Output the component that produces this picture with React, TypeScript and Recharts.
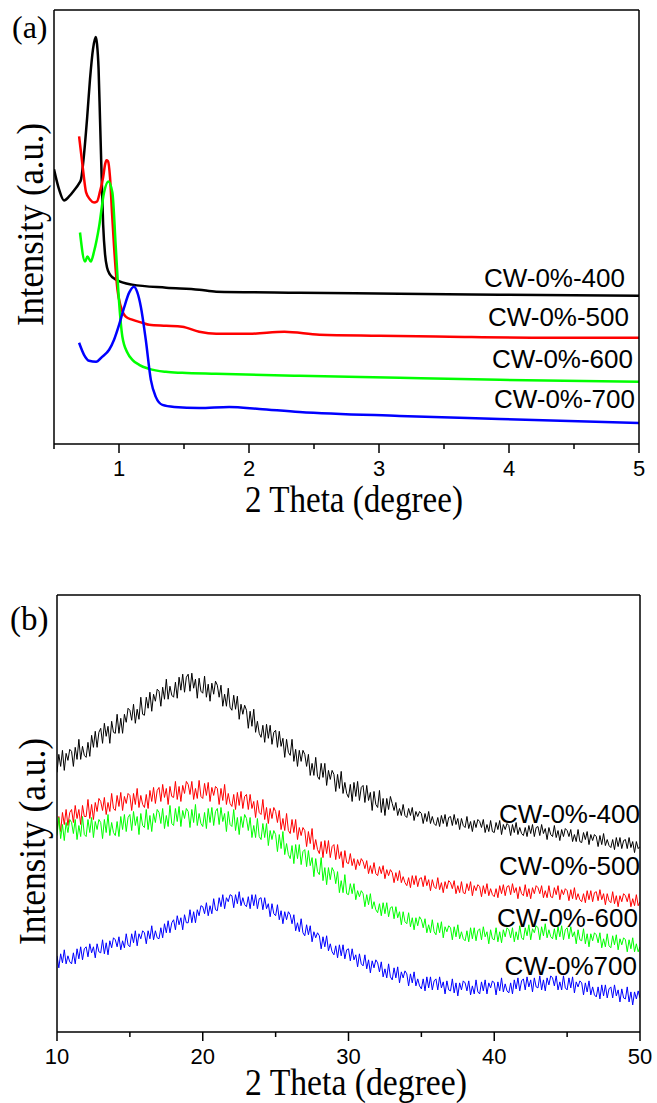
import { LineChart, Line, XAxis, YAxis } from 'recharts'

// ---- panel (a): small-angle XRD, intensity in arbitrary units ----
const thetaA400 = [0.5, 0.539, 0.577, 0.616, 0.654, 0.693, 0.708, 0.731, 0.754, 0.777, 0.8, 0.821, 0.831, 0.843, 0.854, 0.866, 0.878, 0.893, 0.908, 0.931, 0.978, 1.101, 1.363, 1.617, 1.748, 2.388, 3.158, 3.928, 5.0]
const intensityA400 = [274, 254, 243, 247, 253, 260, 264, 289, 324, 364, 394, 406, 399, 374, 324, 269, 219, 189, 176, 169, 164, 159, 156, 154, 152, 151, 150, 149, 148]

const thetaA500 = [0.693, 0.723, 0.747, 0.777, 0.808, 0.831, 0.854, 0.878, 0.893, 0.903, 0.916, 0.931, 0.947, 0.962, 0.988, 1.014, 1.052, 1.101, 1.178, 1.232, 1.363, 1.486, 1.617, 1.748, 2.002, 2.272, 2.542, 3.004, 3.543, 4.314, 5.0]
const intensityA500 = [307, 274, 251, 244, 241, 242, 252, 266, 279, 283, 282, 266, 229, 197, 154, 137, 127, 124, 121, 119, 118, 117, 112, 110, 110, 112, 109, 108, 107, 106, 106]

const thetaA600 = [0.7, 0.739, 0.757, 0.783, 0.808, 0.847, 0.885, 0.918, 0.949, 0.975, 1.001, 1.026, 1.065, 1.103, 1.155, 1.232, 1.361, 1.486, 1.746, 2.388, 3.158, 3.928, 5.0]
const intensityA600 = [211, 182, 187, 182, 192, 217, 251, 262, 251, 197, 141, 107, 91, 84, 79, 75, 72, 71, 70, 68, 66, 64, 62]

const thetaA700 = [0.693, 0.731, 0.77, 0.824, 0.87, 0.924, 0.962, 1.001, 1.039, 1.078, 1.116, 1.139, 1.168, 1.206, 1.245, 1.283, 1.334, 1.425, 1.617, 1.848, 2.079, 2.388, 3.158, 3.928, 5.0]
const intensityA700 = [101, 89, 83, 82, 87, 94, 104, 119, 136, 151, 157, 152, 137, 104, 64, 47, 39, 37, 36, 37, 35, 32, 28, 25, 21]

const ticksA = [0.5, 1, 1.5, 2, 2.5, 3, 3.5, 4, 4.5, 5]
const majorTicksA = [1, 2, 3, 4, 5]
const yTicksA = [18, 36, 54, 72, 90, 108, 126, 144, 162, 180, 198, 216, 234, 252, 270, 288, 306, 324, 342, 360, 378, 396, 414]

// ---- panel (b): wide-angle XRD, read every 0.125 degree (one row = one degree) ----
const thetaB = Array.from({ length: 321 }, (_, i) => 10 + i * 0.125)

const intensityB400 = [
  259, 277, 265, 281, 261, 278, 271, 282,
  280, 265, 284, 272, 292, 272, 285, 276,
  274, 289, 275, 296, 284, 300, 284, 299,
  303, 288, 308, 295, 305, 288, 310, 299,
  298, 317, 298, 313, 298, 317, 309, 323,
  321, 311, 327, 308, 322, 312, 334, 317,
  316, 334, 323, 339, 320, 337, 330, 342,
  340, 325, 344, 332, 352, 332, 345, 336,
  334, 349, 333, 354, 341, 357, 339, 354,
  357, 340, 358, 343, 352, 333, 353, 340,
  338, 355, 334, 347, 330, 348, 337, 350,
  346, 334, 346, 325, 337, 325, 343, 324,
  321, 336, 322, 335, 312, 327, 317, 326,
  321, 303, 320, 305, 322, 299, 310, 298,
  294, 306, 289, 307, 293, 306, 287, 299,
  301, 284, 300, 285, 293, 274, 292, 279,
  276, 292, 270, 282, 265, 281, 270, 281,
  277, 265, 277, 256, 268, 256, 274, 255,
  252, 268, 254, 268, 246, 261, 252, 261,
  257, 240, 257, 243, 260, 238, 249, 238,
  234, 247, 230, 249, 235, 250, 231, 244,
  246, 229, 246, 231, 239, 221, 240, 227,
  224, 241, 219, 233, 216, 233, 222, 235,
  228, 221, 229, 216, 223, 216, 227, 216,
  214, 223, 216, 224, 211, 220, 215, 220,
  218, 208, 218, 210, 220, 208, 215, 208,
  206, 214, 205, 216, 208, 217, 205, 214,
  215, 206, 217, 207, 213, 202, 213, 206,
  204, 215, 203, 210, 200, 211, 204, 212,
  210, 204, 212, 199, 207, 200, 211, 200,
  199, 209, 202, 211, 197, 207, 202, 208,
  206, 196, 207, 199, 209, 197, 204, 198,
  196, 204, 195, 206, 198, 207, 195, 204,
  205, 196, 207, 198, 203, 192, 204, 197,
  195, 206, 194, 201, 191, 202, 195, 203,
  201, 195, 202, 190, 197, 190, 202, 190,
  189, 199, 192, 200, 187, 197, 191, 197,
  195, 185, 196, 187, 198, 186, 192, 186,
  184, 192, 182, 194, 185, 194, 183, 191,
  192, 183, 194, 184, 190, 179, 190, 183,
  185,
]

const intensityB500 = [
  201, 215, 200, 219, 207, 222, 206, 219,
  222, 209, 226, 213, 222, 207, 226, 215,
  215, 232, 213, 227, 212, 229, 220, 233,
  230, 221, 234, 217, 229, 220, 238, 223,
  221, 236, 225, 239, 221, 235, 228, 238,
  236, 221, 238, 227, 243, 224, 236, 227,
  224, 237, 223, 241, 230, 244, 228, 241,
  244, 230, 247, 234, 243, 227, 245, 235,
  234, 250, 232, 245, 230, 246, 238, 250,
  247, 237, 250, 232, 243, 233, 251, 235,
  233, 248, 236, 249, 230, 244, 236, 245,
  243, 227, 243, 231, 247, 227, 238, 228,
  225, 237, 222, 239, 226, 240, 223, 235,
  237, 222, 237, 223, 230, 214, 231, 219,
  217, 232, 212, 224, 208, 223, 213, 224,
  220, 209, 221, 202, 213, 201, 218, 201,
  198, 212, 199, 212, 192, 204, 196, 204,
  201, 185, 200, 188, 203, 182, 192, 182,
  178, 190, 174, 191, 178, 191, 174, 185,
  187, 172, 187, 173, 180, 164, 181, 169,
  168, 178, 166, 173, 162, 172, 166, 173,
  170, 163, 171, 158, 166, 158, 169, 158,
  156, 165, 158, 166, 153, 162, 156, 162,
  159, 149, 159, 151, 161, 149, 155, 149,
  146, 154, 144, 156, 147, 156, 145, 153,
  154, 145, 156, 146, 152, 141, 152, 145,
  143, 154, 142, 149, 139, 150, 143, 151,
  149, 143, 151, 138, 146, 139, 150, 139,
  138, 148, 141, 150, 136, 146, 141, 147,
  145, 135, 146, 138, 148, 136, 143, 137,
  135, 143, 134, 146, 138, 147, 136, 145,
  146, 137, 148, 139, 144, 133, 145, 138,
  136, 147, 135, 143, 133, 144, 138, 146,
  144, 138, 146, 134, 141, 134, 146, 135,
  134, 144, 137, 146, 132, 142, 137, 143,
  141, 131, 142, 133, 144, 132, 138, 132,
  130, 138, 129, 141, 132, 141, 130, 139,
  140, 131, 142, 132, 138, 127, 138, 131,
  129, 140, 128, 136, 125, 136, 130, 138,
  136, 130, 138, 125, 133, 126, 137, 126,
  130,
]

const intensityB600 = [
  196, 214, 193, 207, 191, 209, 199, 212,
  209, 198, 212, 192, 206, 195, 215, 197,
  195, 212, 199, 214, 194, 210, 202, 212,
  209, 193, 212, 199, 217, 196, 209, 199,
  196, 210, 195, 215, 202, 217, 200, 214,
  217, 201, 220, 206, 215, 197, 218, 206,
  204, 222, 202, 216, 200, 218, 209, 222,
  219, 208, 223, 203, 216, 205, 226, 208,
  206, 223, 210, 225, 205, 221, 213, 223,
  220, 204, 222, 209, 227, 206, 218, 208,
  205, 219, 203, 223, 209, 224, 206, 220,
  223, 207, 224, 210, 218, 200, 220, 207,
  205, 222, 201, 214, 197, 215, 204, 217,
  213, 201, 214, 194, 206, 194, 213, 195,
  192, 208, 194, 208, 186, 201, 192, 201,
  197, 180, 197, 183, 200, 177, 188, 177,
  173, 186, 168, 187, 173, 187, 167, 180,
  182, 165, 181, 166, 174, 155, 173, 160,
  157, 174, 151, 164, 147, 164, 152, 164,
  160, 148, 160, 139, 151, 139, 157, 138,
  137, 148, 138, 148, 132, 141, 135, 141,
  138, 125, 137, 127, 138, 123, 130, 122,
  119, 128, 116, 129, 118, 129, 115, 124,
  125, 113, 125, 114, 120, 107, 120, 110,
  108, 119, 105, 114, 102, 114, 106, 115,
  112, 104, 113, 99, 107, 99, 112, 100,
  97, 109, 99, 110, 94, 105, 100, 106,
  104, 92, 105, 95, 107, 93, 100, 93,
  91, 101, 90, 104, 93, 104, 91, 101,
  103, 92, 105, 95, 100, 88, 102, 93,
  92, 104, 90, 100, 89, 102, 95, 104,
  102, 94, 104, 90, 100, 92, 106, 94,
  92, 104, 96, 107, 92, 103, 99, 106,
  104, 92, 105, 96, 108, 94, 102, 95,
  93, 103, 92, 105, 95, 106, 92, 102,
  104, 93, 105, 95, 100, 88, 102, 92,
  91, 103, 88, 98, 85, 98, 91, 99,
  97, 89, 99, 84, 93, 85, 98, 86,
  84, 96, 87, 97, 82, 93, 87, 94,
  92, 80, 92, 83, 94, 80, 88, 80,
  85,
]

const intensityB700 = [
  76, 64, 78, 69, 82, 68, 76, 70,
  68, 79, 68, 83, 73, 85, 72, 83,
  85, 75, 88, 79, 85, 74, 88, 80,
  79, 92, 78, 89, 77, 91, 84, 94,
  92, 85, 95, 82, 91, 84, 98, 87,
  85, 98, 89, 101, 86, 98, 93, 101,
  99, 88, 101, 93, 106, 92, 101, 94,
  93, 104, 94, 108, 99, 111, 99, 109,
  112, 102, 116, 107, 114, 102, 117, 109,
  109, 122, 109, 120, 109, 122, 116, 126,
  125, 118, 129, 116, 126, 118, 133, 122,
  121, 134, 125, 137, 123, 134, 130, 137,
  136, 124, 137, 128, 140, 126, 134, 127,
  125, 135, 123, 137, 126, 137, 123, 133,
  134, 122, 134, 123, 128, 115, 128, 118,
  116, 127, 112, 121, 108, 120, 112, 120,
  117, 108, 117, 101, 109, 100, 113, 99,
  96, 107, 97, 106, 90, 100, 94, 99,
  96, 83, 95, 85, 96, 81, 88, 80,
  77, 86, 74, 87, 76, 87, 73, 82,
  83, 71, 83, 72, 77, 65, 78, 68,
  66, 77, 63, 72, 59, 71, 64, 72,
  69, 60, 70, 55, 63, 54, 68, 55,
  52, 64, 54, 65, 49, 60, 54, 61,
  58, 46, 58, 49, 60, 46, 53, 46,
  43, 53, 41, 55, 44, 55, 42, 51,
  53, 42, 55, 44, 50, 38, 51, 42,
  41, 53, 39, 49, 36, 49, 42, 51,
  49, 41, 51, 37, 46, 38, 52, 40,
  38, 50, 41, 52, 38, 49, 44, 51,
  49, 37, 50, 41, 54, 40, 48, 41,
  39, 49, 38, 52, 43, 54, 41, 51,
  53, 42, 55, 45, 52, 40, 54, 45,
  44, 56, 42, 52, 41, 54, 47, 56,
  54, 46, 56, 42, 50, 42, 56, 44,
  42, 54, 44, 55, 39, 50, 45, 51,
  49, 37, 49, 40, 51, 37, 45, 37,
  35, 45, 33, 47, 36, 47, 34, 43,
  45, 34, 47, 36, 42, 30, 43, 34,
  33, 45, 30, 40, 27, 40, 33, 41,
  34,
]

const ticksB = [10, 15, 20, 25, 30, 35, 40, 45, 50]
const majorTicksB = [10, 20, 30, 40, 50]
const yTicksB = [52.8, 100.4, 148, 195.6, 243.2, 290.8, 338.4, 386]

const SANS = "'Liberation Sans', Arial, sans-serif"
const SERIF = "'Liberation Serif', 'Times New Roman', serif"
const axisStroke = { stroke: '#000', strokeWidth: 1.5 }
const tickStroke = { stroke: '#000', strokeWidth: 1.2 }

const toPoints = (xs: number[], ys: number[]) => xs.map((x, i) => ({ x, y: ys[i] }))

function BottomTick(props: any) {
  const { x, y, payload, majors } = props
  const major = majors.includes(payload.value)
  return (
    <g>
      <line x1={x} y1={y} x2={x} y2={y + (major ? 9 : 5)} stroke="#000" strokeWidth={1.5} />
      {major && (
        <text x={x} y={y + 16} dy="0.71em" textAnchor="middle" fontFamily={SANS} fontSize={22} fill="#000">
          {payload.value}
        </text>
      )}
    </g>
  )
}

// four axes drawing the closed frame: labelled bottom, inward top/left ticks, outward right ticks
function frame(domainX: number[], ticksX: number[], majors: number[], domainY: number[], ticksY: number[]) {
  return [
    <XAxis
      key="xb"
      dataKey="x"
      type="number"
      domain={domainX}
      ticks={ticksX}
      interval={0}
      allowDataOverflow
      height={1}
      tickSize={0}
      tickMargin={0}
      tickLine={false}
      axisLine={axisStroke}
      tick={<BottomTick majors={majors} />}
    />,
    <XAxis
      key="xt"
      xAxisId="top"
      orientation="top"
      type="number"
      domain={domainX}
      ticks={ticksX}
      interval={0}
      allowDataOverflow
      height={1}
      mirror
      tickSize={4}
      tick={false}
      tickLine={tickStroke}
      axisLine={axisStroke}
    />,
    <YAxis
      key="yl"
      type="number"
      domain={domainY}
      ticks={ticksY}
      interval={0}
      allowDataOverflow
      width={1}
      mirror
      tickSize={4}
      tick={false}
      tickLine={tickStroke}
      axisLine={axisStroke}
    />,
    <YAxis
      key="yr"
      yAxisId="right"
      orientation="right"
      type="number"
      domain={domainY}
      ticks={ticksY}
      interval={0}
      allowDataOverflow
      width={1}
      tickSize={3}
      tick={false}
      tickLine={tickStroke}
      axisLine={axisStroke}
    />,
  ]
}

const seriesA = [
  { name: 'a400', xs: thetaA400, ys: intensityA400, color: '#000000' },
  { name: 'a500', xs: thetaA500, ys: intensityA500, color: '#ff0000' },
  { name: 'a600', xs: thetaA600, ys: intensityA600, color: '#00ff00' },
  { name: 'a700', xs: thetaA700, ys: intensityA700, color: '#0000ff' },
]

const seriesB = [
  { name: 'b400', ys: intensityB400, color: '#000000' },
  { name: 'b500', ys: intensityB500, color: '#ff0000' },
  { name: 'b600', ys: intensityB600, color: '#00ff00' },
  { name: 'b700', ys: intensityB700, color: '#0000ff' },
]

export default function App() {
  return (
    <div style={{ position: 'absolute', left: 0, top: 0, width: 657, height: 1103, background: '#fff' }}>
      <div style={{ position: 'absolute', left: 0, top: 0 }}>
        <LineChart width={657} height={540} margin={{ top: 10, right: 17, bottom: 95, left: 54 }}>
          {frame([0.5, 5], ticksA, majorTicksA, [0, 433], yTicksA)}
          {seriesA.map((s) => (
            <Line
              key={s.name}
              data={toPoints(s.xs, s.ys)}
              dataKey="y"
              type="monotone"
              stroke={s.color}
              strokeWidth={2.5}
              dot={false}
              activeDot={false}
              isAnimationActive={false}
            />
          ))}
        </LineChart>
      </div>
      <div style={{ position: 'absolute', left: 0, top: 560 }}>
        <LineChart width={657} height={543} margin={{ top: 35, right: 16, bottom: 70, left: 57 }}>
          {frame([10, 50], ticksB, majorTicksB, [0, 436], yTicksB)}
          {seriesB.map((s) => (
            <Line
              key={s.name}
              data={toPoints(thetaB, s.ys)}
              dataKey="y"
              type="linear"
              stroke={s.color}
              strokeWidth={1}
              dot={false}
              activeDot={false}
              isAnimationActive={false}
            />
          ))}
        </LineChart>
      </div>
      <svg width={657} height={1103} style={{ position: 'absolute', left: 0, top: 0, pointerEvents: 'none' }}>
        <text x={12} y={38} fontFamily={SERIF} fontSize={32} fill="#000">(a)</text>
        <text x={10} y={630} fontFamily={SERIF} fontSize={33} fill="#000">(b)</text>

        <text x={245} y={512} fontFamily={SERIF} fontSize={38} textLength={218} lengthAdjust="spacingAndGlyphs" fill="#000">2 Theta (degree)</text>
        <text x={245} y={1095} fontFamily={SERIF} fontSize={38} textLength={222} lengthAdjust="spacingAndGlyphs" fill="#000">2 Theta (degree)</text>

        <text x={43} y={326} transform="rotate(-90 43 326)" fontFamily={SERIF} fontSize={38} textLength={203} lengthAdjust="spacingAndGlyphs" fill="#000">Intensity (a.u.)</text>
        <text x={45} y={945} transform="rotate(-90 45 945)" fontFamily={SERIF} fontSize={38} textLength={207} lengthAdjust="spacingAndGlyphs" fill="#000">Intensity (a.u.)</text>

        <g fontFamily={SANS} fontSize={26} fill="#000" textAnchor="end">
          <text x={625} y={287}>CW-0%-400</text>
          <text x={629} y={326}>CW-0%-500</text>
          <text x={633} y={368}>CW-0%-600</text>
          <text x={635} y={408}>CW-0%-700</text>
          <text x={640} y={823}>CW-0%-400</text>
          <text x={640} y={875}>CW-0%-500</text>
          <text x={638} y={927}>CW-0%-600</text>
          <text x={637} y={975}>CW-0%700</text>
        </g>
      </svg>
    </div>
  )
}
